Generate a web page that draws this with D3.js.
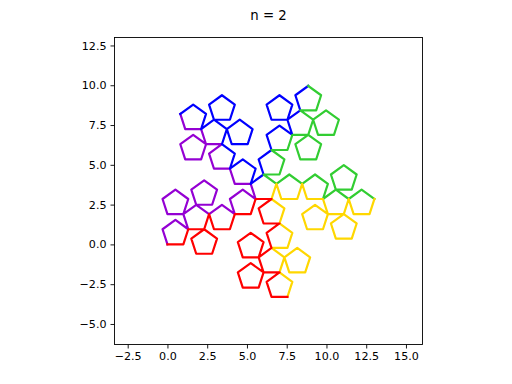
<!DOCTYPE html>
<html>
<head>
<meta charset="utf-8">
<script src="https://cdn.jsdelivr.net/npm/d3@7"></script>
<style>
    body { margin: 0; background: #fff; }
    svg text { font-family: "DejaVu Sans", sans-serif; }
</style>
</head>
<body>
<div id="root"></div>
<script>
// one unit edge per entry, the entry is the heading in steps of 36 degrees
const purpleSteps = [3,1,9,3,5,3,1,9,7,1,3,1,9,7,5,9,1,9,3,1,9,3,5,3,5,3,1,5,7,5,3,1,9,3,5,3]
const blueSteps   = [1,9,7,1,3,1,9,7,5,9,1,9,7,5,3,7,9,7,1,9,7,1,3,1,3,1,9,3,5,3,1,9,7,1,3,1]
const greenSteps  = [9,7,5,9,1,9,7,5,3,7,9,7,5,3,1,5,7,5,9,7,5,9,1,9,1,9,7,1,3,1,9,7,5,9,1,9]
const goldSteps   = [7,5,3,7,9,7,5,3,1,5,7,5,3,1,9,3,5,3,7,5,3,7,9,7,9,7,5,9,1,9,7,5,3,7,9,7]
const redSteps    = [5,3,1,5,7,5,3,1,9,3,5,3,1,9,7,1,3,1,5,3,1,5,7,5,7,5,3,7,9,7,5,3,1,5,7,5]
const startPoint = [0, 0]

const xTicks = [-2.5, 0, 2.5, 5, 7.5, 10, 12.5, 15]
const yTicks = [-5, -2.5, 0, 2.5, 5, 7.5, 10, 12.5]
const xDomain = [-3.33, 16.04]
const yDomain = [-6.29, 13.0]
const title = "n = 2"

const series = [
    {name: "purple", color: "#9400d3", steps: purpleSteps},
    {name: "blue",   color: "#0000ff", steps: blueSteps},
    {name: "green",  color: "#32cd32", steps: greenSteps},
    {name: "gold",   color: "#ffd700", steps: goldSteps},
    {name: "red",    color: "#ff0000", steps: redSteps}
]

const W = 512, H = 384
const box = {left: 114.5, right: 422.5, top: 37.5, bottom: 344.5}

const x = d3.scaleLinear().domain(xDomain).range([box.left, box.right])
const y = d3.scaleLinear().domain(yDomain).range([box.bottom, box.top])

// walk the edges, each piece picks up where the last one stopped
let cur = startPoint.slice()
series.forEach(s => {
    const pts = [cur.slice()]
    s.steps.forEach(k => {
        const a = k * Math.PI / 5
        cur = [cur[0] + Math.cos(a), cur[1] + Math.sin(a)]
        pts.push(cur.slice())
    })
    s.points = pts
})

const svg = d3.select("#root").append("svg")
    .attr("width", W)
    .attr("height", H)

svg.append("rect")
    .attr("width", W)
    .attr("height", H)
    .attr("fill", "#fff")

svg.append("defs").append("clipPath")
    .attr("id", "clip")
    .append("rect")
    .attr("x", box.left)
    .attr("y", box.top)
    .attr("width", box.right - box.left)
    .attr("height", box.bottom - box.top)

const line = d3.line()
    .x(d => x(d[0]))
    .y(d => y(d[1]))

svg.append("g")
    .attr("clip-path", "url(#clip)")
    .selectAll("path")
    .data(series)
    .join("path")
    .attr("d", d => line(d.points))
    .attr("fill", "none")
    .attr("stroke", d => d.color)
    .attr("stroke-width", 2.2)
    .attr("stroke-linejoin", "round")
    .attr("stroke-linecap", "square")

const fmt = d3.format(".1f")

const gx = svg.append("g")
    .attr("transform", `translate(0,${box.bottom})`)
    .call(d3.axisBottom(x).tickValues(xTicks).tickFormat(fmt).tickSize(4).tickPadding(4))
const gy = svg.append("g")
    .attr("transform", `translate(${box.left},0)`)
    .call(d3.axisLeft(y).tickValues(yTicks).tickFormat(fmt).tickSize(4).tickPadding(4))

;[gx, gy].forEach(g => {
    g.select(".domain").remove()
    g.selectAll("line").attr("stroke", "#000").attr("stroke-width", 0.9)
    g.selectAll("text")
        .attr("fill", "#000")
        .style("font-size", "11.1px")
})

svg.append("rect")
    .attr("x", box.left)
    .attr("y", box.top)
    .attr("width", box.right - box.left)
    .attr("height", box.bottom - box.top)
    .attr("fill", "none")
    .attr("stroke", "#000")
    .attr("stroke-width", 0.9)

svg.append("text")
    .attr("x", (box.left + box.right) / 2)
    .attr("y", 20)
    .attr("text-anchor", "middle")
    .style("font-size", "13.3px")
    .text(title)
</script>
</body>
</html>
